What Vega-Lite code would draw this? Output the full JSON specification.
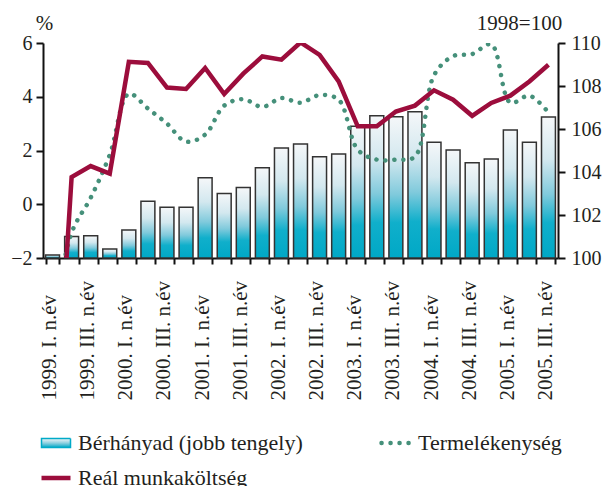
{
  "$schema": "https://vega.github.io/schema/vega-lite/v6.json",
  "width": 515,
  "height": 215,
  "autosize": {"type": "none"},
  "padding": {"left": 43, "top": 43, "right": 56, "bottom": 228},
  "background": "white",
  "config": {
    "font": "Liberation Serif, Times New Roman, serif",
    "view": {"stroke": null},
    "text": {"font": "Liberation Serif, Times New Roman, serif"},
    "legend": {"labelFont": "Liberation Serif, Times New Roman, serif"},
    "axis": {
      "labelFont": "Liberation Serif, Times New Roman, serif",
      "labelFontSize": 20,
      "labelColor": "#231f20",
      "titleFont": "Liberation Serif, Times New Roman, serif",
      "titleFontSize": 21,
      "titleFontWeight": "normal",
      "titleColor": "#231f20",
      "domainColor": "#111111",
      "domainWidth": 2,
      "tickColor": "#111111",
      "tickWidth": 2,
      "grid": false
    }
  },
  "data": {
    "values": [
      {"q": "1999. I. n.év", "berhanyad": 100.14, "real": -10.3, "termel": -4.5},
      {"q": "1999. II. n.év", "berhanyad": 101.0, "real": 1.01, "termel": -1.06},
      {"q": "1999. III. n.év", "berhanyad": 101.04, "real": 1.42, "termel": 0.24},
      {"q": "1999. IV. n.év", "berhanyad": 100.42, "real": 1.14, "termel": 1.84},
      {"q": "2000. I. n.év", "berhanyad": 101.3, "real": 5.30, "termel": 4.11},
      {"q": "2000. II. n.év", "berhanyad": 102.64, "real": 5.26, "termel": 3.56},
      {"q": "2000. III. n.év", "berhanyad": 102.36, "real": 4.34, "termel": 3.0},
      {"q": "2000. IV. n.év", "berhanyad": 102.36, "real": 4.29, "termel": 2.33},
      {"q": "2001. I. n.év", "berhanyad": 103.73, "real": 5.07, "termel": 2.59},
      {"q": "2001. II. n.év", "berhanyad": 103.0, "real": 4.10, "termel": 3.67},
      {"q": "2001. III. n.év", "berhanyad": 103.28, "real": 4.86, "termel": 3.91},
      {"q": "2001. IV. n.év", "berhanyad": 104.2, "real": 5.50, "termel": 3.62},
      {"q": "2002. I. n.év", "berhanyad": 105.12, "real": 5.38, "termel": 3.95},
      {"q": "2002. II. n.év", "berhanyad": 105.3, "real": 6.02, "termel": 3.78},
      {"q": "2002. III. n.év", "berhanyad": 104.71, "real": 5.56, "termel": 4.06},
      {"q": "2002. IV. n.év", "berhanyad": 104.84, "real": 4.57, "termel": 3.89},
      {"q": "2003. I. n.év", "berhanyad": 106.13, "real": 2.90, "termel": 2.03},
      {"q": "2003. II. n.év", "berhanyad": 106.62, "real": 2.90, "termel": 1.66},
      {"q": "2003. III. n.év", "berhanyad": 106.57, "real": 3.45, "termel": 1.66},
      {"q": "2003. IV. n.év", "berhanyad": 106.8, "real": 3.67, "termel": 1.77},
      {"q": "2004. I. n.év", "berhanyad": 105.38, "real": 4.24, "termel": 4.80},
      {"q": "2004. II. n.év", "berhanyad": 105.02, "real": 3.89, "termel": 5.51},
      {"q": "2004. III. n.év", "berhanyad": 104.43, "real": 3.29, "termel": 5.59},
      {"q": "2004. IV. n.év", "berhanyad": 104.6, "real": 3.77, "termel": 5.95},
      {"q": "2005. I. n.év", "berhanyad": 105.95, "real": 4.04, "termel": 3.78},
      {"q": "2005. II. n.év", "berhanyad": 105.38, "real": 4.57, "termel": 4.04},
      {"q": "2005. III. n.év", "berhanyad": 106.56, "real": 5.19, "termel": 3.41}
    ]
  },
  "encoding": {
    "x": {
      "field": "q",
      "type": "ordinal",
      "sort": null,
      "scale": {"paddingInner": 0.27, "paddingOuter": 0.135},
      "axis": {
        "title": null,
        "tickBand": "extent",
        "tickSize": 6,
        "labelFontSize": 21,
        "labelAngle": -90,
        "labelAlign": "left",
        "labelBaseline": "middle",
        "labelPadding": 136,
        "labelOffset": -3,
        "labelOverlap": false,
        "labelLimit": 300,
        "labelExpr": "(indexof(datum.label, '. II.') >= 0 || indexof(datum.label, '. IV.') >= 0) ? '' : datum.label"
      }
    }
  },
  "layer": [
    {
      "mark": {
        "type": "bar",
        "fill": {
          "gradient": "linear",
          "x1": 0, "y1": 0, "x2": 0, "y2": 1,
          "stops": [
            {"offset": 0, "color": "#f5f7f9"},
            {"offset": 0.3, "color": "#d3e8ef"},
            {"offset": 0.55, "color": "#80cadc"},
            {"offset": 0.75, "color": "#10afcb"},
            {"offset": 1, "color": "#00a8c6"}
          ]
        },
        "stroke": "#333333",
        "strokeWidth": 1.5
      },
      "encoding": {
        "y": {
          "field": "berhanyad",
          "type": "quantitative",
          "scale": {"domain": [100, 110], "zero": false},
          "axis": {
            "orient": "right",
            "values": [100, 102, 104, 106, 108, 110],
            "tickSize": 7,
            "labelPadding": 6,
            "title": "1998=100",
            "titleAngle": 0,
            "titleX": -39,
            "titleY": -14,
            "titleAlign": "center",
            "titleBaseline": "alphabetic"
          }
        },
        "y2": {"datum": 100}
      }
    },
    {
      "layer": [
        {
          "mark": {
            "type": "line",
            "interpolate": "catmull-rom",
            "strokeDash": [0.1, 8.9],
            "strokeCap": "round",
            "strokeWidth": 4.5,
            "clip": true
          },
          "encoding": {
            "y": {
              "field": "termel",
              "type": "quantitative",
              "scale": {"domain": [-2, 6], "zero": false},
              "axis": {
                "orient": "left",
                "values": [-2, 0, 2, 4, 6],
                "tickSize": 7,
                "labelPadding": 4,
                "title": "%",
                "titleAngle": 0,
                "titleX": 1,
                "titleY": -14,
                "titleAlign": "center",
                "titleBaseline": "alphabetic"
              }
            },
            "color": {
              "datum": "Termelékenység",
              "scale": {
                "domain": ["Bérhányad (jobb tengely)", "Termelékenység", "Reál munkaköltség"],
                "range": ["#00aac8", "#45907a", "#9c0d3c"]
              },
              "legend": {
                "title": null,
                "orient": "none",
                "direction": "horizontal",
                "legendX": 2,
                "legendY": 389,
                "columns": 2,
                "columnPadding": 69,
                "rowPadding": 13,
                "padding": 0,
                "symbolSize": 841,
                "symbolStrokeWidth": 4.5,
                "labelFont": "Liberation Serif, Times New Roman, serif",
                "labelFontSize": 22,
                "labelColor": "#231f20",
                "labelLimit": 400,
                "labelOffset": 11,
                "encode": {
                  "symbols": {
                    "update": {
                      "shape": {"signal": "datum.value === 'Bérhányad (jobb tengely)' ? 'M-1,-0.31H1V0.31H-1Z' : 'M-1,0H1'"},
                      "fill": {"signal": "datum.value === 'Bérhányad (jobb tengely)' ? {gradient: 'linear', x1: 0, y1: 0, x2: 0, y2: 1, stops: [{offset: 0, color: '#f4f6f8'}, {offset: 0.5, color: '#8fd0e0'}, {offset: 1, color: '#00a8c6'}]} : 'transparent'"},
                      "stroke": {"signal": "datum.value === 'Bérhányad (jobb tengely)' ? '#333333' : (datum.value === 'Termelékenység' ? '#45907a' : '#9c0d3c')"},
                      "strokeWidth": {"signal": "datum.value === 'Bérhányad (jobb tengely)' ? 1.5 : 4.5"},
                      "strokeDash": {"signal": "datum.value === 'Termelékenység' ? [0.1, 8.9] : [1, 0]"},
                      "strokeCap": {"signal": "datum.value === 'Termelékenység' ? 'round' : 'butt'"},
                      "opacity": {"value": 1}
                    }
                  }
                }
              }
            }
          }
        },
        {
          "mark": {
            "type": "line",
            "strokeWidth": 4.5,
            "clip": true
          },
          "encoding": {
            "y": {
              "field": "real",
              "type": "quantitative"
            },
            "color": {
              "datum": "Reál munkaköltség"
            }
          }
        }
      ]
    }
  ],
  "resolve": {"scale": {"y": "independent"}}
}
